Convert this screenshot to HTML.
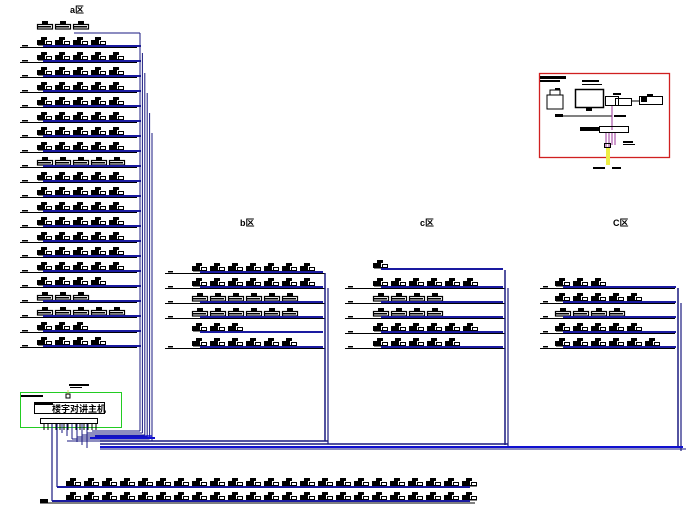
<!DOCTYPE html>
<html><head><meta charset="utf-8"><style>
html,body{margin:0;padding:0;background:#fff;width:696px;height:515px;overflow:hidden}
svg{display:block}
text{font-family:"Liberation Sans","Noto Sans CJK SC",sans-serif}
</style></head><body>
<svg id="s" width="696" height="515" viewBox="0 0 696 515" xmlns="http://www.w3.org/2000/svg">
<text x="70" y="13" font-size="9" font-weight="bold">a区</text>
<text x="240" y="226" font-size="9" font-weight="bold">b区</text>
<text x="420" y="226" font-size="9" font-weight="bold">c区</text>
<text x="613" y="226" font-size="9" font-weight="bold">C区</text>
<!-- controller -->
<rect x="20.5" y="392.5" width="101" height="35" fill="none" stroke="#22cc22" stroke-width="1"/>
<rect x="34.5" y="402.5" width="70" height="11" fill="none" stroke="#000"/>
<rect x="35" y="403" width="18" height="2" fill="#000"/>
<text x="52" y="412" font-size="9" font-weight="bold">楼宇对讲主机</text>
<rect x="21" y="395" width="22" height="2" fill="#000"/>
<rect x="40.5" y="418.5" width="57" height="5" fill="none" stroke="#000"/>
<line x1="68" y1="390" x2="68" y2="395" stroke="#cc6" />
<rect x="66" y="394" width="4" height="4" fill="none" stroke="#000"/>
<rect x="69" y="384" width="20" height="2" fill="#000"/>
<rect x="70" y="387" width="12" height="1" fill="#000"/>
<!-- red box -->
<rect x="539.5" y="73.5" width="130" height="84" fill="none" stroke="#d02020" stroke-width="1.3"/>
<rect x="540" y="76" width="26" height="3" fill="#000"/><rect x="540" y="80" width="20" height="2" fill="#000"/>
<rect x="582" y="80" width="17" height="2" fill="#000"/><rect x="582" y="84" width="20" height="1" fill="#000"/>
<rect x="575.5" y="89.5" width="28" height="18" fill="none" stroke="#000" stroke-width="1.5"/>
<rect x="586" y="108" width="6" height="3" fill="#000"/>
<path d="M547 95 h16 v14 h-16 z M550 90 h10 v5 h-10z" fill="none" stroke="#000"/>
<rect x="555" y="88" width="5" height="2" fill="#000"/>
<rect x="605.5" y="96.5" width="13" height="9" fill="none" stroke="#000"/>
<rect x="615.5" y="98.5" width="16" height="7" fill="none" stroke="#000"/>
<rect x="639.5" y="96.5" width="23" height="8" fill="none" stroke="#000"/>
<rect x="641" y="97" width="6" height="5" fill="#000"/><rect x="647" y="94" width="6" height="2" fill="#000"/>
<rect x="613" y="93" width="8" height="2" fill="#000"/>
<line x1="631" y1="101" x2="640" y2="101" stroke="#000"/>
<line x1="558" y1="116" x2="612" y2="116" stroke="#000"/>
<rect x="555" y="114" width="8" height="3" fill="#000"/>
<line x1="612" y1="106" x2="612" y2="130" stroke="#993399"/>
<rect x="614" y="115" width="12" height="2" fill="#000"/>
<rect x="599.5" y="126.5" width="29" height="6" fill="none" stroke="#000"/>
<rect x="580" y="127" width="20" height="4" fill="#000"/>
<path d="M606 133 v14 M609 133 v14 M612 133 v12 M615 133 v12" stroke="#993399"/>
<rect x="604.5" y="143.5" width="6" height="4" fill="none" stroke="#000"/>
<rect x="623" y="141" width="10" height="2" fill="#000"/><rect x="623" y="144" width="12" height="1" fill="#000"/>
<path d="M607 148 v17 M609 148 v17" stroke="#eeee44" stroke-width="2"/>
<rect x="593" y="167" width="12" height="2" fill="#000"/><rect x="612" y="167" width="9" height="2" fill="#000"/>
<g id="g"></g>
</svg>
<script>
var g=document.getElementById('g'),h='';
function R(x,y,w,hh,c){h+='<rect x="'+x+'" y="'+y+'" width="'+w+'" height="'+hh+'" fill="'+c+'"/>';}
function L(x1,y1,x2,y2,c,w){h+='<line x1="'+x1+'" y1="'+y1+'" x2="'+x2+'" y2="'+y2+'" stroke="'+c+'" stroke-width="'+(w||1)+'"/>';}
function icon(x,y,o){
 if(o){h+='<rect x="'+(x+0.5)+'" y="'+(y-4.5)+'" width="15" height="4.5" fill="none" stroke="#000" stroke-width="1.2"/>';R(x+5,y-8,6,4,'#000');R(x+1,y-3,13,1.5,'#000');}
 else{R(x,y-5,8,5,'#000');R(x+4,y-8,6,3,'#000');h+='<rect x="'+(x+9.5)+'" y="'+(y-3.5)+'" width="5" height="3" fill="none" stroke="#000"/>';R(x+1,y-1,14,1.5,'#000');}
}
icon(37,29,1);icon(55,29,1);icon(73,29,1);
var cnt=[4,5,5,5,5,5,5,5,5,5,5,5,5,5,5,5,4,3,5,3,4];
var out={8:1,17:1,18:1};
for(var k=0;k<21;k++){var y=42+15*k;
 for(var i=0;i<cnt[k];i++)icon(37+18*i,y+3,out[k]);
 L(20,y+5.5,137,y+5.5,'#000');R(22,y+3,6,1.5,'#000');
 L(43,y+4,141,y+4,'#1a1aa0',2);
}
for(var j=0;j<6;j++){var x=140+2.4*j;L(x,33+j*20,x,431+2*j,'#1a1a80');L(x,431+2*j,92-j*5,431+2*j,'#1a1a80');}
L(140,33,74,33,'#1a1a80');
for(var j=0;j<14;j++){L(44+4*j,424,44+4*j,430,'#000');}
function grp(x0,x1,ix,rows,vx,by){
 rows.forEach(function(r){var y=r[0];
  for(var i=0;i<r[1];i++)icon(ix+18*i,y+3,r[2]);
  if(r[3]!==0){L(x0,y+5.5,x1,y+5.5,'#000');R(x0+3,y+3,5,1.5,'#000');}
  L(ix+8,y+4,vx-2,y+4,'#1a1aa0',2);
 });
 L(vx,rows[0][0]+5,vx,by,'#1a1a80',1.5);L(vx+3,rows[1][0]+5,vx+3,by+3,'#1a1a80',1.2);
}
grp(165,325,192,[[268,7],[283,7],[298,6,1],[313,6,1],[328,3,0,0],[343,6]],325,441);
grp(345,505,373,[[265,1,0,0],[283,6],[298,4,1],[313,4,1],[328,6],[343,5]],505,445);
grp(540,675,555,[[283,3],[298,5],[313,4,1],[328,5],[343,6]],678,448);
L(100,441,328,441,'#1a1a80',1.5);L(100,444,508,444,'#1a1a80',1.5);L(100,447,683,447,'#1010d0',2);
L(90,438,155,438,'#1010d0',2);L(95,436,152,436,'#1010d0',1.5);L(100,449,686,449,'#1a1a80',1);
for(var j=0;j<6;j++){L(62+j*5,424,62+j*5,433+j*3,'#1a1a80');}
L(52,424,52,501,'#1a1a80',1.2);L(57,424,57,487,'#1a1a80',1.2);
for(var i=0;i<23;i++){icon(66+18*i,486,0);icon(66+18*i,500,0);}
L(57,487,470,487,'#1a1aa0',2);L(52,501,470,501,'#1a1aa0',2);
L(40,503,475,503,'#000',1);R(40,499,8,4,'#000');
g.innerHTML=h;
</script>
</body></html>
